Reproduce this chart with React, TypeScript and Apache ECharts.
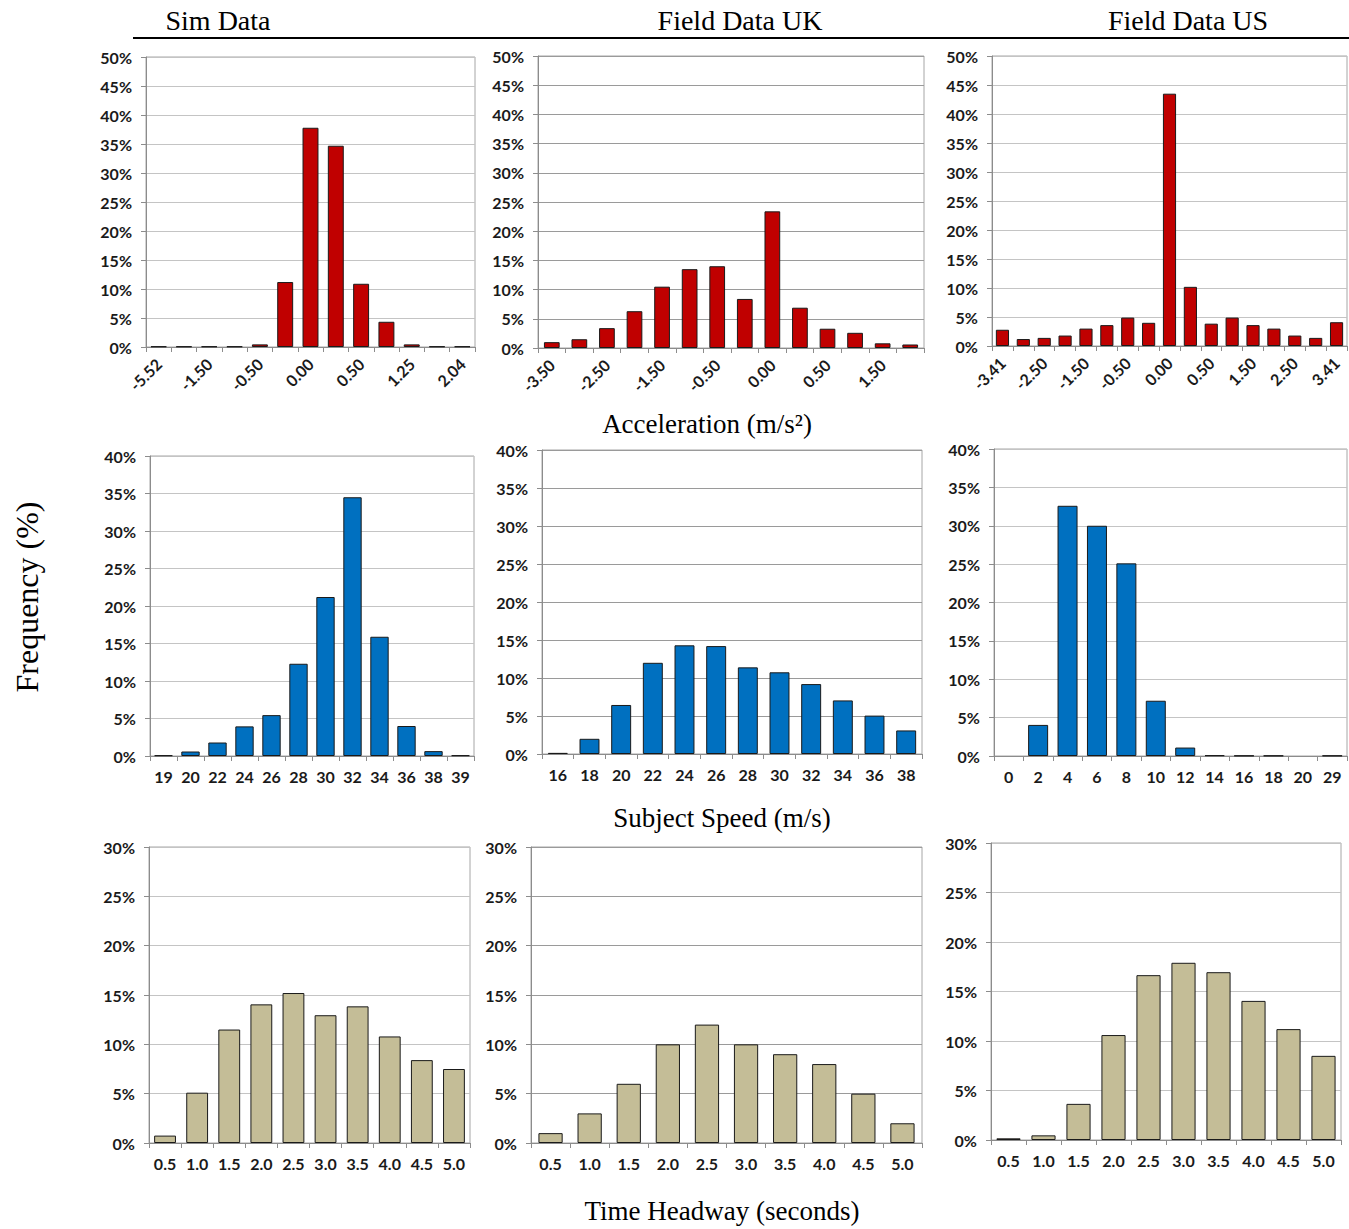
import { useEffect, useRef } from "react";
import * as echarts from "echarts";

// ---------- Data ----------
const simAccCats = ["-5.52", "-2.00", "-1.50", "-1.00", "-0.50", "-0.25", "0.00", "0.25", "0.50", "1.00", "1.25", "1.50", "2.04"];
const simAccVals = [0.1, 0.1, 0.1, 0.1, 0.45, 11.2, 37.8, 34.7, 10.9, 4.35, 0.45, 0.1, 0.1];

const ukAccCats = ["-3.50", "-3.00", "-2.50", "-2.00", "-1.50", "-1.00", "-0.50", "-0.25", "0.00", "0.25", "0.50", "1.00", "1.50", "2.00"];
const ukAccVals = [1.0, 1.5, 3.4, 6.3, 10.5, 13.5, 14.0, 8.4, 23.4, 6.9, 3.3, 2.6, 0.8, 0.6];

const usAccCats = ["-3.41", "-3.00", "-2.50", "-2.00", "-1.50", "-1.00", "-0.50", "-0.25", "0.00", "0.25", "0.50", "1.00", "1.50", "2.00", "2.50", "3.00", "3.41"];
const usAccVals = [2.8, 1.2, 1.4, 1.8, 3.0, 3.6, 4.9, 4.0, 43.5, 10.2, 3.85, 4.9, 3.6, 3.0, 1.8, 1.4, 4.1];

const simSpeedCats = ["19", "20", "22", "24", "26", "28", "30", "32", "34", "36", "38", "39"];
const simSpeedVals = [0.1, 0.6, 1.8, 3.95, 5.45, 12.3, 21.2, 34.5, 15.9, 4.0, 0.65, 0.1];

const ukSpeedCats = ["16", "18", "20", "22", "24", "26", "28", "30", "32", "34", "36", "38"];
const ukSpeedVals = [0.15, 2.0, 6.45, 12.0, 14.3, 14.2, 11.4, 10.75, 9.2, 7.05, 5.05, 3.1];

const usSpeedCats = ["0", "2", "4", "6", "8", "10", "12", "14", "16", "18", "20", "29"];
const usSpeedVals = [0, 4.05, 32.6, 30.0, 25.1, 7.2, 1.1, 0.1, 0.05, 0.05, 0, 0.05];

const headwayCats = ["0.5", "1.0", "1.5", "2.0", "2.5", "3.0", "3.5", "4.0", "4.5", "5.0"];
const simHeadwayVals = [0.75, 5.1, 11.5, 14.05, 15.2, 12.95, 13.85, 10.8, 8.4, 7.5];
const ukHeadwayVals = [1.0, 3.0, 6.0, 10.0, 12.0, 10.0, 9.0, 8.0, 5.0, 2.0];
const usHeadwayVals = [0.17, 0.47, 3.65, 10.6, 16.65, 17.9, 16.95, 14.05, 11.2, 8.5];

const columnTitles = ["Sim Data", "Field Data UK", "Field Data US"];
const rowTitles = ["Acceleration (m/s²)", "Subject Speed (m/s)", "Time Headway (seconds)"];
const yTitle = "Frequency (%)";

// ---------- Layout / style ----------
const RED = "#C00000";
const BLUE = "#0070C0";
const TAN = "#C4BD97";
const LABEL_FONT = "Lato, 'Open Sans', sans-serif";
const SERIF = "'Liberation Serif', 'Times New Roman', serif";

type Panel = {
  cats: string[];
  vals: number[];
  color: string;
  max: number;
  left: number;
  top: number;
  width: number;
  height: number;
  rotate: number;
  labelInterval: number;
  gap: string;
  gridColor: string;
};

const panels: Panel[] = [
  { cats: simAccCats, vals: simAccVals, color: RED, max: 50, left: 146, top: 57, width: 329, height: 290, rotate: 45, labelInterval: 1, gap: "37%", gridColor: "#c4c4c4" },
  { cats: ukAccCats, vals: ukAccVals, color: RED, max: 50, left: 538, top: 56, width: 386, height: 292, rotate: 45, labelInterval: 1, gap: "43%", gridColor: "#9a9a9a" },
  { cats: usAccCats, vals: usAccVals, color: RED, max: 50, left: 992, top: 56, width: 355, height: 290, rotate: 45, labelInterval: 1, gap: "37%", gridColor: "#c4c4c4" },
  { cats: simSpeedCats, vals: simSpeedVals, color: BLUE, max: 40, left: 150, top: 456, width: 324, height: 300, rotate: 0, labelInterval: 0, gap: "32%", gridColor: "#c4c4c4" },
  { cats: ukSpeedCats, vals: ukSpeedVals, color: BLUE, max: 40, left: 542, top: 450, width: 380, height: 304, rotate: 0, labelInterval: 0, gap: "37%", gridColor: "#9a9a9a" },
  { cats: usSpeedCats, vals: usSpeedVals, color: BLUE, max: 40, left: 994, top: 449, width: 353, height: 307, rotate: 0, labelInterval: 0, gap: "32%", gridColor: "#c4c4c4" },
  { cats: headwayCats, vals: simHeadwayVals, color: TAN, max: 30, left: 149, top: 847, width: 321, height: 296, rotate: 0, labelInterval: 0, gap: "32%", gridColor: "#c4c4c4" },
  { cats: headwayCats, vals: ukHeadwayVals, color: TAN, max: 30, left: 531, top: 847, width: 391, height: 296, rotate: 0, labelInterval: 0, gap: "38%", gridColor: "#9a9a9a" },
  { cats: headwayCats, vals: usHeadwayVals, color: TAN, max: 30, left: 991, top: 843, width: 350, height: 297, rotate: 0, labelInterval: 0, gap: "31%", gridColor: "#c4c4c4" },
];

const AXIS_GRAY = "#8c8c8c";

function buildOption() {
  const grid = panels.map((p) => ({
    left: p.left,
    top: p.top,
    width: p.width,
    height: p.height,
    show: true,
    borderColor: "#a6a6a6",
    borderWidth: 1,
    backgroundColor: "transparent",
  }));
  const xAxis = panels.map((p, i) => ({
    type: "category",
    gridIndex: i,
    data: p.cats,
    boundaryGap: true,
    axisLine: { show: true, lineStyle: { color: AXIS_GRAY, width: 1 } },
    axisTick: { show: true, interval: 0, alignWithLabel: false, length: 5, lineStyle: { color: AXIS_GRAY } },
    axisLabel: {
      interval: p.labelInterval,
      rotate: p.rotate,
      fontFamily: LABEL_FONT,
      fontWeight: "bold",
      fontSize: 16,
      color: "#1a1a1a",
      margin: p.rotate ? 14 : 12,
    },
    splitLine: { show: false },
  }));
  const yAxis = panels.map((p, i) => ({
    type: "value",
    gridIndex: i,
    min: 0,
    max: p.max,
    interval: 5,
    axisLine: { show: true, lineStyle: { color: AXIS_GRAY, width: 1 } },
    axisTick: { show: true, length: 5, lineStyle: { color: AXIS_GRAY } },
    axisLabel: {
      formatter: "{value}%",
      fontFamily: LABEL_FONT,
      fontWeight: "bold",
      fontSize: 16,
      color: "#1a1a1a",
      margin: 14,
    },
    splitLine: { show: true, lineStyle: { color: p.gridColor, width: 1 } },
  }));
  const series = panels.map((p, i) => ({
    type: "bar",
    xAxisIndex: i,
    yAxisIndex: i,
    data: p.vals.map((v) => (v === 0 ? { value: 0, itemStyle: { borderWidth: 0 } } : v)),
    barCategoryGap: p.gap,
    itemStyle: { color: p.color, borderColor: "#1a1a1a", borderWidth: 1 },
  }));

  const colCenters = [218, 740, 1188];
  const rowCenters = [424, 818, 1211];
  const graphic: any[] = [];
  columnTitles.forEach((t, i) => {
    graphic.push({
      type: "text",
      x: colCenters[i],
      y: 20,
      style: { text: t, font: `28px ${SERIF}`, fill: "#000", align: "center", verticalAlign: "middle" },
    });
  });
  rowTitles.forEach((t, i) => {
    graphic.push({
      type: "text",
      x: i === 0 ? 707 : 722,
      y: rowCenters[i],
      style: { text: t, font: `27px ${SERIF}`, fill: "#000", align: "center", verticalAlign: "middle" },
    });
  });
  graphic.push({
    type: "text",
    x: 27,
    y: 597,
    rotation: Math.PI / 2,
    style: { text: yTitle, font: `32px ${SERIF}`, fill: "#000", align: "center", verticalAlign: "middle" },
  });
  graphic.push({
    type: "line",
    shape: { x1: 133, y1: 38, x2: 1349, y2: 38 },
    style: { stroke: "#000", lineWidth: 2 },
  });

  return { animation: false, backgroundColor: "#ffffff", grid, xAxis, yAxis, series, graphic };
}

export default function App() {
  const ref = useRef<HTMLDivElement>(null);
  useEffect(() => {
    document.body.style.margin = "0";
    document.body.style.overflow = "hidden";
    if (!ref.current) return;
    const chart = echarts.init(ref.current, undefined, { renderer: "svg" });
    chart.setOption(buildOption() as any);
    return () => chart.dispose();
  }, []);
  return (
    <div
      ref={ref}
      style={{ position: "absolute", left: 0, top: 0, width: 1349, height: 1229, background: "#fff" }}
    />
  );
}
